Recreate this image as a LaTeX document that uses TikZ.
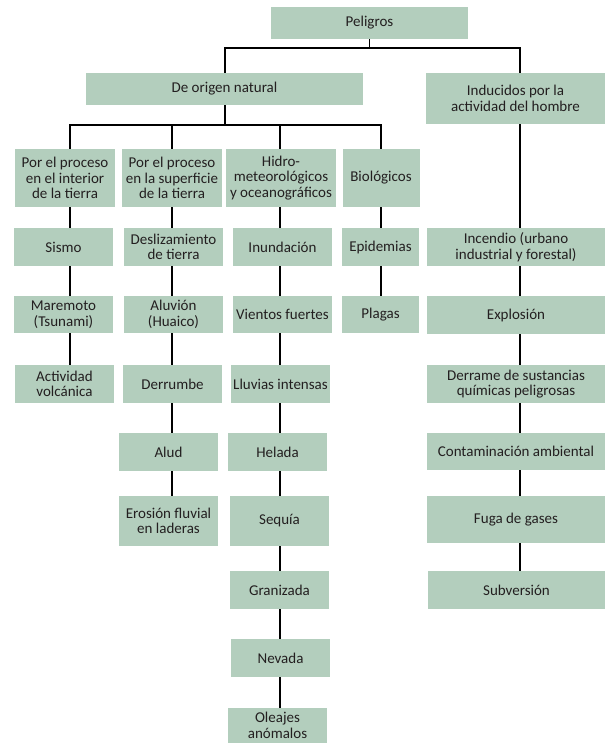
\documentclass[tikz,border=0pt]{standalone}
\usepackage{fontspec}
\setmainfont{Carlito}
\definecolor{boxfill}{RGB}{179,206,189}
\definecolor{textc}{RGB}{35,31,32}
\newcommand\mybox[6]{\node[box,minimum width=#4,minimum height=#5] (#1) at (#2,#3) {#6};}
\begin{document}
\begin{tikzpicture}[x=1pt,y=-1pt,
  box/.style={fill=boxfill,inner sep=0pt,align=center,text=textc,font=\fontsize{15}{15.5}\selectfont},
  ln/.style={line width=1.2pt,black}]
\useasboundingbox (0,0) rectangle (605,743);
% top levels
\mybox{pel}{369.5}{23}{197}{32}{Peligros}
\mybox{nat}{224.5}{89}{277}{32}{De origen natural}
\mybox{ind}{515.5}{98.5}{179}{51}{Inducidos por la\\actividad del hombre}
% categories
\mybox{c1}{65}{178}{100}{58}{Por el proceso\\en el interior\\de la tierra}
\mybox{c2}{172}{178}{100}{58}{Por el proceso\\en la superficie\\de la tierra}
\mybox{c3}{281}{178}{110}{58}{Hidro-\\meteorológicos\\y oceanográficos}
\mybox{c4}{381}{178}{77}{58}{Biológicos}
% column 1
\mybox{sismo}{63.5}{247}{99}{38}{Sismo}
\mybox{mare}{63.5}{314.5}{99}{37}{Maremoto\\(Tsunami)}
\mybox{activ}{64.5}{384}{99}{38}{Actividad\\volcánica}
% column 2
\mybox{desl}{173.5}{247}{99}{38}{Deslizamiento\\de tierra}
\mybox{aluv}{173.5}{314.5}{99}{37}{Aluvión\\(Huaico)}
\mybox{derr}{172.5}{384}{99}{38}{Derrumbe}
\mybox{alud}{168.5}{452}{99}{38}{Alud}
\mybox{eros}{168.5}{521}{99}{50}{Erosión fluvial\\en laderas}
% column 3
\mybox{inund}{282.5}{247}{99}{38}{Inundación}
\mybox{vient}{282.5}{314.5}{99}{37}{Vientos fuertes}
\mybox{lluv}{280.5}{384}{99}{38}{Lluvias intensas}
\mybox{hel}{277.5}{452}{99}{38}{Helada}
\mybox{seq}{279.5}{521}{99}{50}{Sequía}
\mybox{gran}{279.5}{590}{99}{38}{Granizada}
\mybox{nev}{280.5}{658}{99}{38}{Nevada}
\mybox{olea}{277.5}{725.5}{99}{35}{Oleajes\\anómalos}
% column 4
\mybox{epid}{380.5}{247}{77}{38}{Epidemias}
\mybox{plag}{380.5}{314.5}{77}{37}{Plagas}
% right column
\mybox{inc}{516}{247}{178}{38}{Incendio (urbano\\industrial y forestal)}
\mybox{expl}{516}{315}{178}{38}{Explosión}
\mybox{derrame}{516}{384}{178}{38}{Derrame de sustancias\\químicas peligrosas}
\mybox{cont}{516}{451.5}{178}{37}{Contaminación ambiental}
\mybox{fuga}{516}{519.5}{178}{47}{Fuga de gases}
\mybox{subv}{516.5}{590}{177}{38}{Subversión}
% connector columns and bus levels
\coordinate (bus0) at (0,48);
\coordinate (bus1) at (0,125);
\coordinate (x1) at (70,0);
\coordinate (x2) at (172,0);
\coordinate (x3) at (280,0);
\coordinate (x4) at (381,0);
\coordinate (xr) at (520,0);
\coordinate (xn) at (225,0);
% top connectors
\draw[ln] (pel.south) -- (pel.south |- bus0);
\draw[ln] (xn |- nat.north) -- (xn |- bus0) -- (xr |- bus0) -- (xr |- ind.north);
\draw[ln] (xn |- nat.south) -- (xn |- bus1);
\draw[ln] (x1 |- c1.north) -- (x1 |- bus1) -- (x4 |- bus1) -- (x4 |- c4.north);
\draw[ln] (x2 |- bus1) -- (x2 |- c2.north);
\draw[ln] (x3 |- bus1) -- (x3 |- c3.north);
% column 1
\draw[ln] (x1 |- c1.south) -- (x1 |- sismo.north);
\draw[ln] (x1 |- sismo.south) -- (x1 |- mare.north);
\draw[ln] (x1 |- mare.south) -- (x1 |- activ.north);
% column 2
\draw[ln] (x2 |- c2.south) -- (x2 |- desl.north);
\draw[ln] (x2 |- desl.south) -- (x2 |- aluv.north);
\draw[ln] (x2 |- aluv.south) -- (x2 |- derr.north);
\draw[ln] (x2 |- derr.south) -- (x2 |- alud.north);
\draw[ln] (x2 |- alud.south) -- (x2 |- eros.north);
% column 3
\draw[ln] (x3 |- c3.south) -- (x3 |- inund.north);
\draw[ln] (x3 |- inund.south) -- (x3 |- vient.north);
\draw[ln] (x3 |- vient.south) -- (x3 |- lluv.north);
\draw[ln] (x3 |- lluv.south) -- (x3 |- hel.north);
\draw[ln] (x3 |- hel.south) -- (x3 |- seq.north);
\draw[ln] (x3 |- seq.south) -- (x3 |- gran.north);
\draw[ln] (x3 |- gran.south) -- (x3 |- nev.north);
\draw[ln] (x3 |- nev.south) -- (x3 |- olea.north);
% column 4
\draw[ln] (x4 |- c4.south) -- (x4 |- epid.north);
\draw[ln] (x4 |- epid.south) -- (x4 |- plag.north);
% right column
\draw[ln] (xr |- ind.south) -- (xr |- inc.north);
\draw[ln] (xr |- inc.south) -- (xr |- expl.north);
\draw[ln] (xr |- expl.south) -- (xr |- derrame.north);
\draw[ln] (xr |- derrame.south) -- (xr |- cont.north);
\draw[ln] (xr |- cont.south) -- (xr |- fuga.north);
\draw[ln] (xr |- fuga.south) -- (xr |- subv.north);
\end{tikzpicture}
\end{document}
